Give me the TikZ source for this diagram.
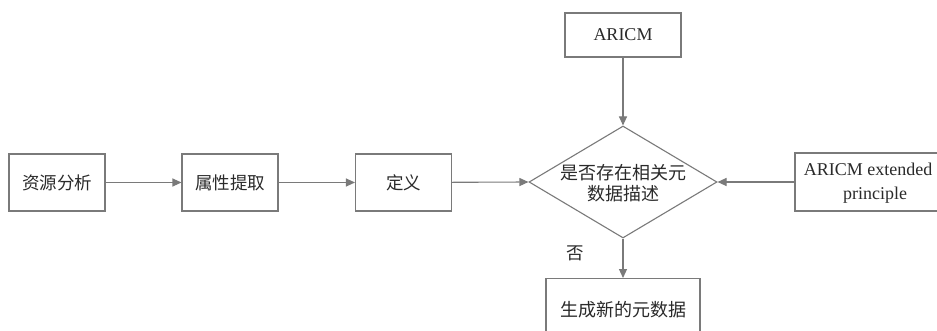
\documentclass[tikz,border=0pt]{standalone}
\usepackage{fontspec}
\setmainfont{Liberation Serif}
\newfontfamily\cjk{Noto Sans CJK SC}
\usetikzlibrary{shapes.geometric,arrows.meta}
\definecolor{linegray}{HTML}{7A7A7A}
\definecolor{textgray}{HTML}{2A2A2A}
\tikzset{
  box/.style={draw=linegray, line width=1.1pt, rectangle, inner sep=0pt, text=textgray, font=\cjk\fontsize{17.5}{21}\selectfont},
  arr/.style={draw=linegray, line width=1.1pt, -{Triangle[length=9pt,width=8pt]}},
}
\begin{document}
\begin{tikzpicture}[x=1pt,y=-1pt]
\useasboundingbox[fill=white] (0,0) rectangle (937,331);
\node[box, minimum width=96, minimum height=57] (a) at (57,182.5) {资源分析};
\node[box, minimum width=96, minimum height=57] (b) at (230,182.5) {属性提取};
\node[box, minimum width=96, minimum height=57] (c) at (403.5,182.5) {定义};
\node[box, minimum width=116, minimum height=44, font=\fontsize{18}{21}\selectfont] (top) at (623,35) {ARICM};
\node[diamond, draw=linegray, line width=1.1pt, minimum width=188, minimum height=112, inner sep=0pt] (d) at (623,182) {};
\node[text=textgray, align=center, font=\cjk\fontsize{18}{21}\selectfont] (dt) at (623,183) {是否存在相关元\\数据描述};
\node[box, minimum width=150, minimum height=58] (r) at (870,182) {};
\node[text=textgray, align=center, font=\fontsize{18}{24}\selectfont] (rt) at (868,183) {ARICM extended\\\hspace*{14pt}principle};
\node[box, anchor=north, minimum width=154, minimum height=70] (g) at (623,278) {};
\node[text=textgray, font=\cjk\fontsize{18}{21}\selectfont] (gt) at (623,310) {生成新的元数据};
\node[text=textgray, font=\cjk\fontsize{17.5}{21}\selectfont] (no) at (575,253) {否};
\draw[arr] (a) -- (b);
\draw[arr] (b) -- (c);
\draw[arr] (c) -- (d.west);
\draw[arr] (top) -- (d.north);
\draw[arr] (r) -- (d.east);
\draw[arr] (d.south) -- (g);
\end{tikzpicture}
\end{document}
